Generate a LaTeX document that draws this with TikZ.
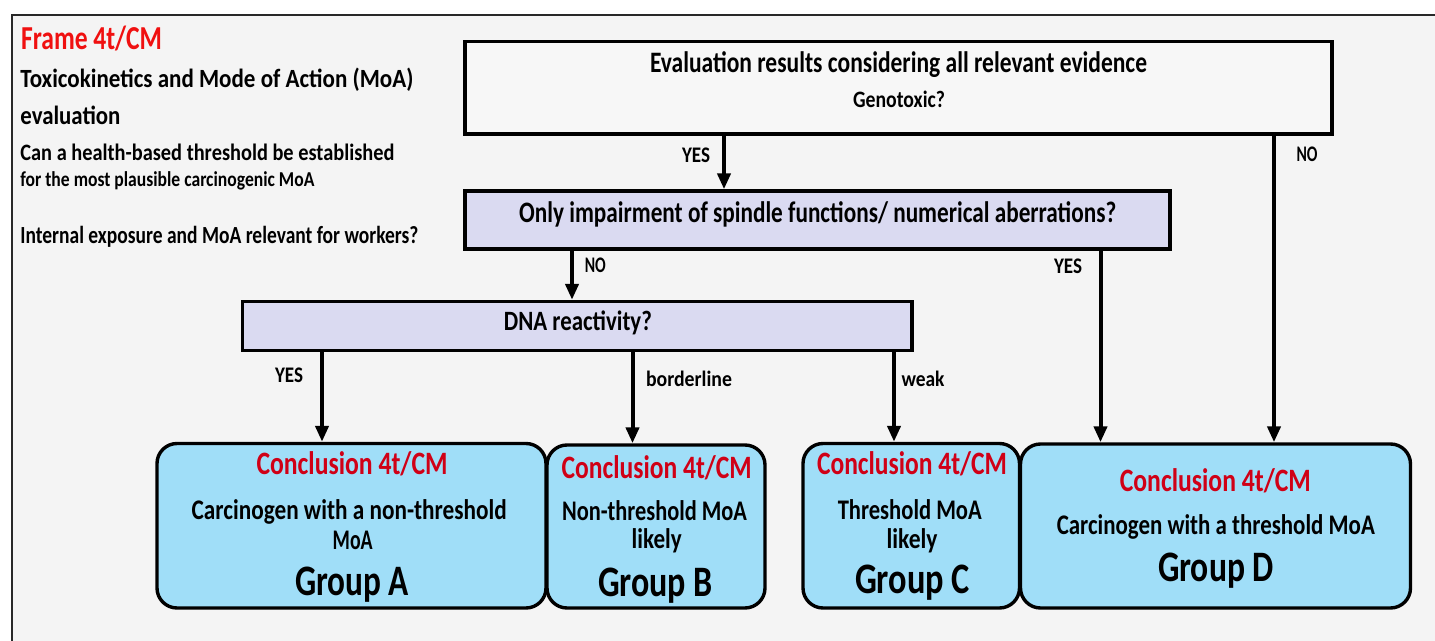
\documentclass[tikz,border=0pt]{standalone}
\usepackage{fontspec}
\setmainfont{Carlito}
\usetikzlibrary{arrows.meta}
\newdimen\pxu \pxu=0.5pt
\newcommand\fw[2]{\resizebox{#1\pxu}{\height}{#2}}
\newcommand\fs[1]{\fontsize{\fpeval{#1*1.06}}{\fpeval{#1*1.06}}\selectfont}
\definecolor{bgc}{RGB}{244,244,244}
\definecolor{framec}{RGB}{40,40,40}
\definecolor{topfill}{RGB}{247,247,247}
\definecolor{lav}{RGB}{218,218,241}
\definecolor{sky}{RGB}{160,222,248}
\definecolor{redA}{RGB}{240,16,16}
\definecolor{redC}{RGB}{208,0,22}
\begin{document}
\begin{tikzpicture}[x=0.5pt,y=-0.5pt,
  qbox/.style={draw=black,line width=1.7pt,inner sep=0pt,rectangle},
  gbox/.style={draw=black,line width=1.7pt,inner sep=0pt,rectangle,rounded corners=10pt,fill=sky},
  txt/.style={inner sep=0pt,anchor=base,font=\bfseries},
  ltxt/.style={inner sep=0pt,anchor=base west,font=\bfseries},
  arr/.style={line width=2pt,-{Triangle[length=8pt,width=6.5pt]}}]
\useasboundingbox (0,0) rectangle (1435,641);
\fill[white] (0,0) rectangle (1435,641);
\fill[bgc] (12,15) rectangle (1435,641);
\draw[framec,line width=1pt] (12,641) -- (12,15) -- (1435,15);

% left heading
\node[ltxt,text=redA] (frame) at (20.7,49.3) {\fs{15.8}\fw{141}{Frame 4t/CM}};
\node[ltxt] (tk) at (20,87.3) {\fs{12.4}\fw{393}{Toxicokinetics and Mode of Action (MoA)}};
\node[ltxt] (ev) at (20,125) {\fs{12.4}\fw{100}{evaluation}};
\node[ltxt] (can) at (20,160.7) {\fs{11.1}\fw{374}{Can a health-based threshold be established}};
\node[ltxt] (for) at (20,186.7) {\fs{10}\fw{294}{for the most plausible carcinogenic MoA}};
\node[ltxt] (int) at (20,244) {\fs{11.6}\fw{398}{Internal exposure and MoA relevant for workers?}};

% boxes
\node[qbox,fill=topfill,minimum width=433.5pt,minimum height=46.25pt] (top) at (898.5,87.75) {};
\node[qbox,fill=lav,minimum width=352.5pt,minimum height=29pt] (spin) at (817.5,220) {};
\node[qbox,fill=lav,minimum width=334.75pt,minimum height=24.5pt] (dna) at (577.25,326) {};
\node[gbox,minimum width=194.5pt,minimum height=82.25pt] (gA) at (351.5,525.75) {};
\node[gbox,minimum width=109pt,minimum height=81.5pt] (gB) at (656,526.5) {};
\node[gbox,minimum width=108.25pt,minimum height=82.25pt] (gC) at (911.25,525.75) {};
\node[gbox,minimum width=195pt,minimum height=82pt] (gD) at (1215.5,526) {};

% box texts
\node[txt] (topt1) at (898.5,72.7) {\fs{14}\fw{497}{Evaluation results considering all relevant evidence}};
\node[txt] (topt2) at (899,107.3) {\fs{11.1}\fw{92}{Genotoxic?}};
\node[txt] (spint) at (817.7,222.7) {\fs{14}\fw{597}{Only impairment of spindle functions/ numerical aberrations?}};
\node[txt] (dnat) at (577.9,331) {\fs{13.2}\fw{148}{DNA reactivity?}};

\node[txt,text=redC] (cA) at (352,475) {\fs{15.4}\fw{191}{Conclusion 4t/CM}};
\node[txt] (dA1) at (349.2,519.3) {\fs{13.4}\fw{315}{Carcinogen with a non-threshold}};
\node[txt] (dA2) at (352.7,549.3) {\fs{13.4}\fw{40}{MoA}};
\node[txt] (grA) at (352,595) {\fs{20.5}\fw{114}{Group A}};

\node[txt,text=redC] (cB) at (656.7,478.3) {\fs{15.4}\fw{190}{Conclusion 4t/CM}};
\node[txt] (dB1) at (654.5,520.7) {\fs{13.4}\fw{185}{Non-threshold MoA}};
\node[txt] (dB2) at (656.7,548.3) {\fs{13.4}\fw{50}{likely}};
\node[txt] (grB) at (655.5,596.7) {\fs{20.5}\fw{115}{Group B}};

\node[txt,text=redC] (cC) at (912,475) {\fs{15.4}\fw{190}{Conclusion 4t/CM}};
\node[txt] (dC1) at (909.8,519.3) {\fs{13.4}\fw{144}{Threshold MoA}};
\node[txt] (dC2) at (912,548) {\fs{13.4}\fw{51}{likely}};
\node[txt] (grC) at (912.5,593) {\fs{20.5}\fw{115}{Group C}};

\node[txt,text=redC] (cD) at (1215.3,491.7) {\fs{15.4}\fw{191}{Conclusion 4t/CM}};
\node[txt] (dD1) at (1215.8,534.3) {\fs{13.4}\fw{318}{Carcinogen with a threshold MoA}};
\node[txt] (grD) at (1216,581.7) {\fs{20.5}\fw{116}{Group D}};

% arrow x positions
\coordinate (a1) at (724,0);
\coordinate (a2) at (1274,0);
\coordinate (a3) at (572,0);
\coordinate (a4) at (1100.5,0);
\coordinate (a5) at (322,0);
\coordinate (a6) at (632.5,0);
\coordinate (a7) at (894,0);

\draw[arr] (top.south -| a1) -- (spin.north -| a1);
\draw[arr] (top.south -| a2) -- (gD.north -| a2);
\draw[arr] (spin.south -| a3) -- (dna.north -| a3);
\draw[arr] (spin.south -| a4) -- (gD.north -| a4);
\draw[arr] (dna.south -| a5) -- (gA.north -| a5);
\draw[arr] (dna.south -| a6) -- (gB.north -| a6);
\draw[arr] (dna.south -| a7) -- (gC.north -| a7);

% connector labels
\node[txt] (lyes1) at (696,162.7) {\fs{10.5}\fw{28}{YES}};
\node[txt] (lno1) at (1307,161.7) {\fs{10.5}\fw{21}{NO}};
\node[txt] (lno2) at (595.3,272.7) {\fs{10.5}\fw{21}{NO}};
\node[txt] (lyes2) at (1068,274) {\fs{10.5}\fw{28}{YES}};
\node[txt] (lyes3) at (289,382.7) {\fs{10.5}\fw{28}{YES}};
\node[txt] (lbord) at (689,386.7) {\fs{10.4}\fw{86}{borderline}};
\node[txt] (lweak) at (923,386.7) {\fs{10.4}\fw{43}{weak}};
\end{tikzpicture}
\end{document}
